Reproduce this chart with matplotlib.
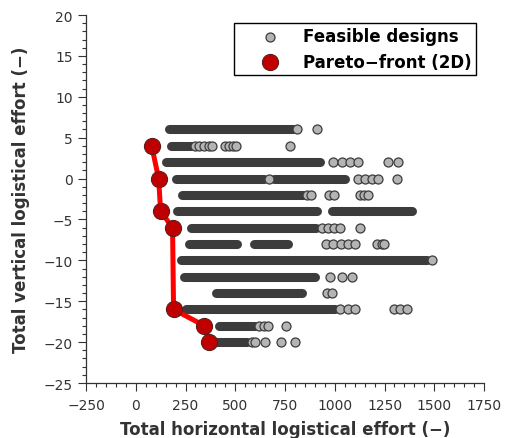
import matplotlib

matplotlib.use("Agg")
import matplotlib.pyplot as plt
from matplotlib.ticker import MultipleLocator

# dense runs of feasible designs (overlapping markers read as solid bands)
band_y = [6, 4, 2, 0, 0, -2, -4, -4, -6, -8, -8, -10, -12, -14, -16, -18, -20]
band_start = [168, 178, 151, 201, 695, 233, 208, 987, 277, 268, 595, 226, 243, 402, 250, 419, 385]
band_end = [790, 280, 928, 645, 1053, 840, 912, 1390, 905, 510, 765, 1465, 903, 836, 1000, 600, 560]

# individually visible feasible designs
point_x = [811, 913,
           300, 320, 345, 370, 385, 450, 470, 490, 505, 775,
           992, 1034, 1075, 1117, 1268, 1318,
           670, 1118, 1150, 1185, 1215, 1313,
           860, 880, 970, 995, 1125, 1145, 1165,
           935, 965, 995, 1025, 1129,
           955, 990, 1030, 1065, 1104, 1210, 1235, 1245,
           1491,
           975, 1034, 1089,
           962, 988,
           1025, 1065, 1104, 1298, 1330, 1365,
           620, 645, 665, 754,
           585, 600, 648, 732, 799]
point_y = [6, 6,
           4, 4, 4, 4, 4, 4, 4, 4, 4, 4,
           2, 2, 2, 2, 2, 2,
           0, 0, 0, 0, 0, 0,
           -2, -2, -2, -2, -2, -2, -2,
           -6, -6, -6, -6, -6,
           -8, -8, -8, -8, -8, -8, -8, -8,
           -10,
           -12, -12, -12,
           -14, -14,
           -16, -16, -16, -16, -16, -16,
           -18, -18, -18, -18,
           -20, -20, -20, -20, -20]

# Pareto-front (2D)
pareto_x = [80, 115, 125, 185, 190, 345, 368]
pareto_y = [4, 0, -4, -6, -16, -18, -20]

x_ticks = [-250, 0, 250, 500, 750, 1000, 1250, 1500, 1750]
y_ticks = [-25, -20, -15, -10, -5, 0, 5, 10, 15, 20]

dark = "#3c3c3c"
text_col = "#333333"

plt.rcParams["font.family"] = ["DejaVu Sans"]

fig = plt.figure(figsize=(5.05, 4.39), dpi=100)
ax = fig.add_axes([86 / 505, 1 - 384 / 439, (484 - 86) / 505, (384 - 16) / 439])

ax.hlines(band_y, band_start, band_end, colors=dark, linewidth=6.5, capstyle="round", zorder=2)
ax.scatter(point_x, point_y, s=42, facecolor="#b4b4b4", edgecolor=dark, linewidth=0.9,
           zorder=3, label="Feasible designs")

ax.plot(pareto_x, pareto_y, color="#ff0000", linewidth=3.6, zorder=4)
ax.scatter(pareto_x, pareto_y, s=135, facecolor="#c00000", edgecolor="#5a2020", linewidth=0.8,
           zorder=5, label="Pareto\u2212front (2D)")

ax.set_xlim(-250, 1750)
ax.set_ylim(-25, 20)
ax.set_xticks(x_ticks)
ax.set_yticks(y_ticks)
ax.xaxis.set_minor_locator(MultipleLocator(50))
ax.yaxis.set_minor_locator(MultipleLocator(1))

for side in ["top", "right"]:
    ax.spines[side].set_visible(False)
for side in ["left", "bottom"]:
    ax.spines[side].set_color(text_col)
    ax.spines[side].set_linewidth(0.9)

ax.tick_params(which="major", length=6, width=0.8, color=text_col, labelsize=10, labelcolor=text_col)
ax.tick_params(axis="x", which="major", pad=4.5)
ax.tick_params(which="minor", length=3, width=0.8, color=text_col)

ax.set_xlabel("Total horizontal logistical effort (\u2212)", fontsize=12, fontweight="bold",
              color=text_col, labelpad=6)
ax.set_ylabel("Total vertical logistical effort (\u2212)", fontsize=12, fontweight="bold",
              color=text_col, labelpad=10)

leg = ax.legend(loc="upper right", bbox_to_anchor=(476 / 505, 1 - 24 / 439),
                bbox_transform=fig.transFigure, borderaxespad=0, scatterpoints=1,
                prop={"weight": "bold", "size": 12}, handlelength=3.8, handletextpad=0.1,
                borderpad=0.25, labelspacing=0.45, fancybox=False, framealpha=1)
leg.get_frame().set_edgecolor("black")
leg.get_frame().set_linewidth(1.0)

fig.savefig("out.png", dpi=100)
